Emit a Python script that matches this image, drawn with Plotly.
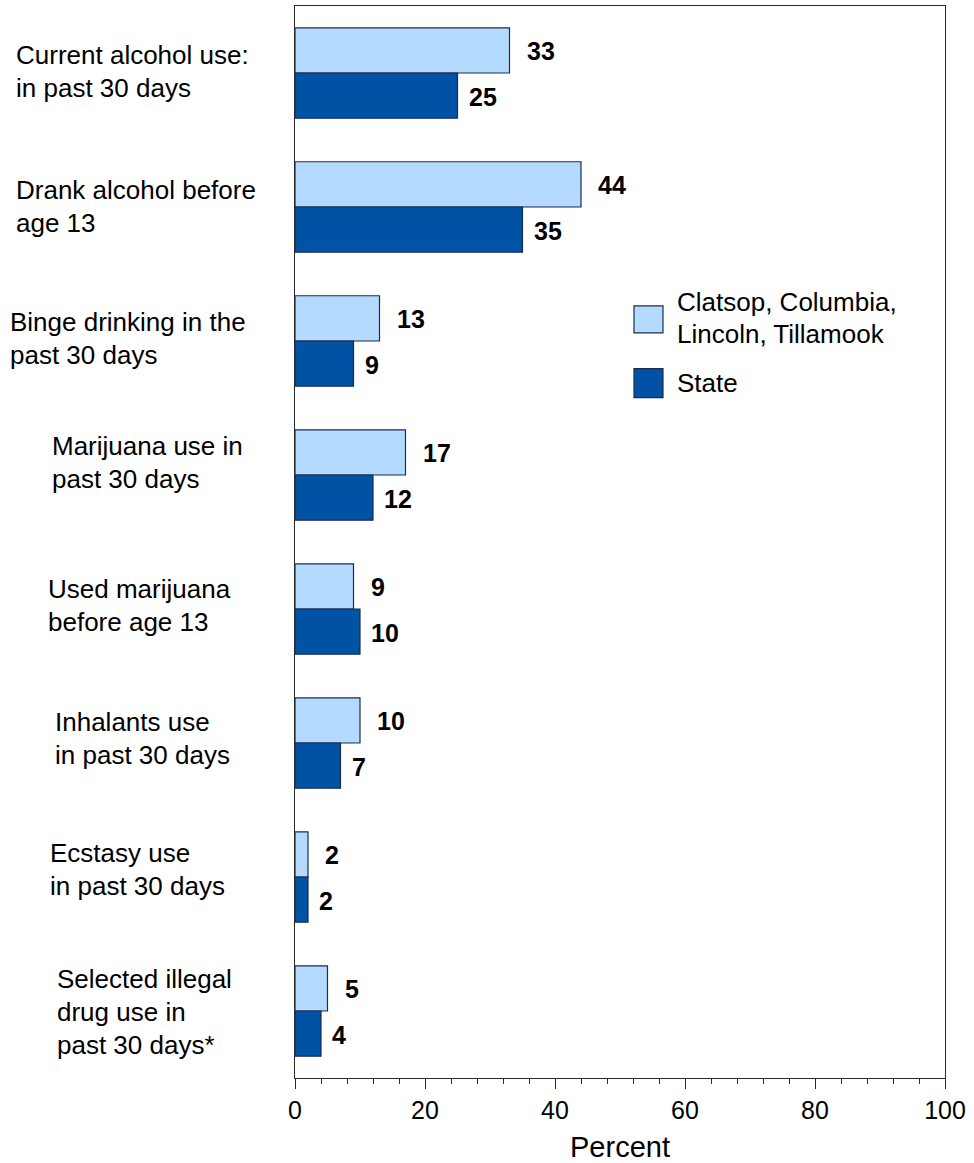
import plotly.graph_objects as go

categories = [
    "Current alcohol use:\nin past 30 days",
    "Drank alcohol before\nage 13",
    "Binge drinking in the\npast 30 days",
    "Marijuana use in\npast 30 days",
    "Used marijuana\nbefore age 13",
    "Inhalants use\nin past 30 days",
    "Ecstasy use\nin past 30 days",
    "Selected illegal\ndrug use in\npast 30 days*",
]
region_name = "Clatsop, Columbia, Lincoln, Tillamook"
region_legend_lines = ["Clatsop, Columbia,", "Lincoln, Tillamook"]
state_name = "State"
region_values = [33, 44, 13, 17, 9, 10, 2, 5]
state_values = [25, 35, 9, 12, 10, 7, 2, 4]
x_ticks = [0, 20, 40, 60, 80, 100]

# layout/style (pixel positions)
label_left_px = [16, 16, 10, 52, 48, 55, 50, 57]
label_dy_px = [-2, -1, -3, -13, -4, -5, -8, 1]
LINE_H = 33
PLOT_L, PLOT_R, PLOT_T, PLOT_B = 295, 945, 5, 1081
W, H = PLOT_R - PLOT_L, PLOT_B - PLOT_T

LIGHT = "#B4DAFF"
DARK = "#0052A4"
EDGE = "#1b2d4d"
AXIS = "#2a2a2a"
FONT = "Liberation Sans, Arial, sans-serif"

fig = go.Figure()
fig.add_trace(go.Bar(
    y=categories, x=region_values, orientation="h", name=region_name,
    marker=dict(color=LIGHT, line=dict(color=EDGE, width=1.2)),
    showlegend=False,
))
fig.add_trace(go.Bar(
    y=categories, x=state_values, orientation="h", name=state_name,
    marker=dict(color=DARK, line=dict(color=EDGE, width=1.2)),
    showlegend=False,
))

annotations = []
# value labels
for i, c in enumerate(categories):
    annotations.append(dict(
        x=region_values[i], y=c, xref="x", yref="y", text=f"<b>{region_values[i]}</b>",
        showarrow=False, xanchor="left", yanchor="middle", xshift=15, yshift=22,
        font=dict(size=25, color="black", family=FONT)))
    annotations.append(dict(
        x=state_values[i], y=c, xref="x", yref="y", text=f"<b>{state_values[i]}</b>",
        showarrow=False, xanchor="left", yanchor="middle", xshift=9, yshift=-24,
        font=dict(size=25, color="black", family=FONT)))

# category labels
for i, c in enumerate(categories):
    lines = c.split("\n")
    n = len(lines)
    for j, line in enumerate(lines):
        offset = label_dy_px[i] + (j - (n - 1) / 2) * LINE_H
        annotations.append(dict(
            x=0, y=c, xref="paper", yref="y", text=line, showarrow=False,
            xanchor="left", yanchor="middle",
            xshift=label_left_px[i] - PLOT_L - 2, yshift=-offset,
            font=dict(size=26, color="black", family=FONT)))

# legend (manual)
def px_x(px):
    return (px - PLOT_L) / W
def px_y(py):
    return (PLOT_B - py) / H

shapes = [
    dict(type="rect", xref="paper", yref="paper",
         x0=px_x(634), x1=px_x(663), y0=px_y(333), y1=px_y(306),
         fillcolor=LIGHT, line=dict(color=EDGE, width=1.2)),
    dict(type="rect", xref="paper", yref="paper",
         x0=px_x(634), x1=px_x(663), y0=px_y(398), y1=px_y(369),
         fillcolor=DARK, line=dict(color=EDGE, width=1.2)),
]
for t, py in zip(region_legend_lines, [302, 334]):
    annotations.append(dict(x=px_x(675), y=px_y(py), xref="paper", yref="paper", text=t,
                            showarrow=False, xanchor="left", yanchor="middle",
                            font=dict(size=26, color="black", family=FONT)))
annotations.append(dict(x=px_x(675), y=px_y(383), xref="paper", yref="paper", text=state_name,
                        showarrow=False, xanchor="left", yanchor="middle",
                        font=dict(size=26, color="black", family=FONT)))

fig.update_layout(
    width=974, height=1163,
    margin=dict(l=PLOT_L, r=974 - PLOT_R, t=PLOT_T, b=1163 - PLOT_B),
    paper_bgcolor="white", plot_bgcolor="white",
    barmode="group", bargap=0.325, bargroupgap=0,
    font=dict(family=FONT, size=25, color="black"),
    annotations=annotations, shapes=shapes,
    showlegend=False,
)
fig.update_xaxes(
    range=[0, 100], tickvals=x_ticks, ticktext=[str(v) for v in x_ticks],
    ticks="outside", ticklen=10, tickcolor=AXIS, tickwidth=1,
    minor=dict(dtick=4, ticks="outside", ticklen=5, tickcolor=AXIS, tickwidth=1, showgrid=False),
    showline=True, linecolor=AXIS, linewidth=1, mirror=True,
    showgrid=False, zeroline=False,
    tickfont=dict(size=25, color="black", family=FONT),
    title=dict(text="Percent", font=dict(size=29, color="black", family=FONT), standoff=14),
)
fig.update_yaxes(
    autorange="reversed", showticklabels=False, ticks="",
    showline=True, linecolor=AXIS, linewidth=1, mirror=True,
    showgrid=False, zeroline=False,
)

fig.write_html("out.html", config={"displayModeBar": False},
               post_script="document.body.style.margin='0';")
